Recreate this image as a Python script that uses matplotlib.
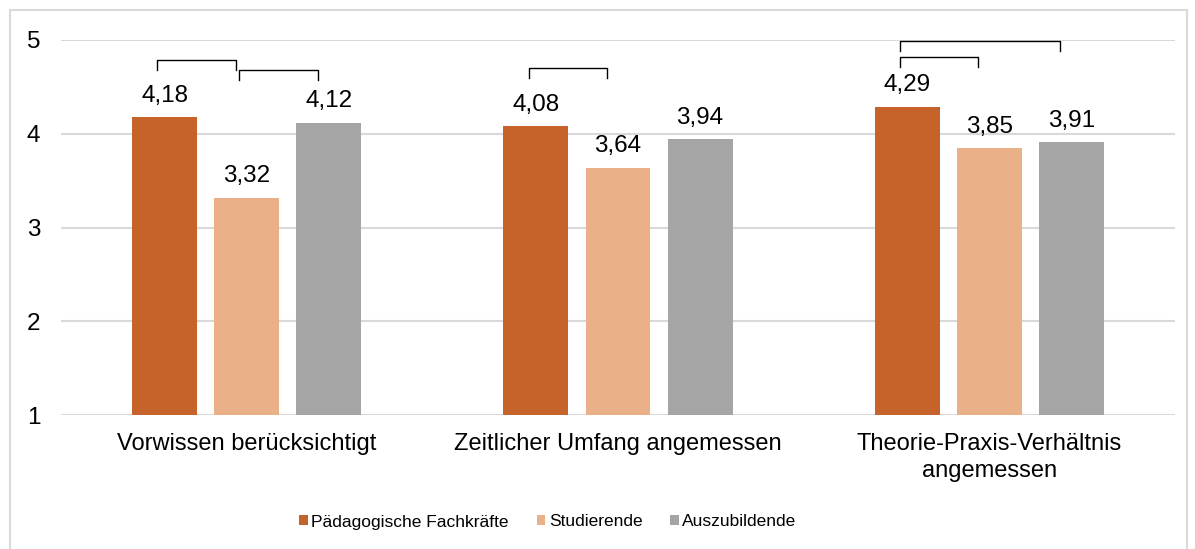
import matplotlib.pyplot as plt
from matplotlib.patches import Rectangle
import numpy as np

plt.rcParams['font.family'] = ['Liberation Sans', 'DejaVu Sans']

categories = ['Vorwissen berücksichtigt', 'Zeitlicher Umfang angemessen',
              'Theorie-Praxis-Verhältnis\nangemessen']
series_names = ['Pädagogische Fachkräfte', 'Studierende', 'Auszubildende']
fachkraefte = [4.18, 4.08, 4.29]
studierende = [3.32, 3.64, 3.85]
auszubildende = [4.12, 3.94, 3.91]
y_ticks = [1, 2, 3, 4, 5]

# significance brackets: (category, bar from, bar to, height)
brackets = [(0, 0, 1, 4.79), (0, 1, 2, 4.68), (1, 0, 1, 4.70),
            (2, 0, 2, 4.99), (2, 0, 1, 4.82)]

colors = ['#C5632B', '#EAB087', '#A5A5A5']
values = [fachkraefte, studierende, auszubildende]

fig = plt.figure(figsize=(11.95, 5.49), dpi=100)
fig.patches.append(Rectangle((10/1195, -0.05), 1177/1195, 1.05 - 10/549, transform=fig.transFigure,
                             fill=False, edgecolor='#D9D9D9', linewidth=1.5))
ax = fig.add_axes([61/1195, 1 - 415/549, 1114/1195, 375/549])

x = np.arange(len(categories))
width = 0.175
step = 0.221
for k, (name, vals, c) in enumerate(zip(series_names, values, colors)):
    pos = x + (k - 1) * step
    ax.bar(pos, np.array(vals) - 1, width, bottom=1, color=c, label=name, zorder=2)
    for p, v in zip(pos, vals):
        ax.annotate(('%.2f' % v).replace('.', ','), (p, v), xytext=(0, 11),
                    textcoords='offset points', ha='center', va='baseline', fontsize=17.5)

for cat, i, j, h in brackets:
    x0 = cat + (i - 1) * step - 0.02
    x1 = cat + (j - 1) * step - 0.03
    ax.plot([x0, x0, x1, x1], [h - 0.11, h, h, h - 0.11], color='black', lw=1.0,
            clip_on=False, zorder=3)

ax.set_xlim(-0.5, 2.5)
ax.set_ylim(1, 5)
ax.set_yticks(y_ticks)
ax.set_yticklabels([str(t) for t in y_ticks], fontsize=17.5)
ax.set_xticks(x)
ax.set_xticklabels(categories, fontsize=17, linespacing=1.3)
ax.tick_params(axis='both', length=0)
ax.tick_params(axis='y', pad=15)
ax.tick_params(axis='x', pad=13)
ax.grid(axis='y', color='#D9D9D9', linewidth=1.5, zorder=0)
for s in ax.spines.values():
    s.set_visible(False)

leg = fig.legend(loc='center', bbox_to_anchor=(548/1195, 1 - 522/549), ncol=3, frameon=False,
                 fontsize=12.5, handlelength=0.5, handleheight=0.5, handletextpad=0.2,
                 columnspacing=1.6)

fig.savefig('out.png', dpi=100)
